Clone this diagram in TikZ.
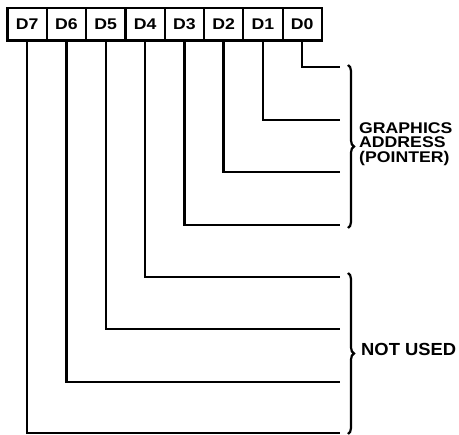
\documentclass[tikz,border=0pt]{standalone}
\usepackage{fontspec}
\setmainfont{Liberation Sans}
\usepackage{graphicx}
\usetikzlibrary{positioning,decorations.pathreplacing}
\tikzset{bitbox/.style={rectangle,draw=black,line width=2.2pt,minimum width=39.3pt,minimum height=32.5pt,inner sep=0pt}}
\tikzset{wire/.style={line width=2.4pt}}
\tikzset{brc/.style={decorate,decoration={brace,amplitude=6pt},line width=2.2pt}}
\newcommand{\Wlabel}[1]{\scalebox{1.14}[1]{\bfseries #1}}

\begin{document}
\begin{tikzpicture}[x=1pt,y=-1pt,font=\fontsize{15.5}{14.5}\selectfont]
\useasboundingbox (0,0) rectangle (459,435);
% the register bits
\node (d7) [bitbox] at (27.15,24.25) {\Wlabel{D7}};
\node (d6) [bitbox] at (66.45,24.25) {\Wlabel{D6}};
\node (d5) [bitbox] at (105.75,24.25) {\Wlabel{D5}};
\node (d4) [bitbox] at (145.05,24.25) {\Wlabel{D4}};
\node (d3) [bitbox] at (184.35,24.25) {\Wlabel{D3}};
\node (d2) [bitbox] at (223.65,24.25) {\Wlabel{D2}};
\node (d1) [bitbox] at (262.95,24.25) {\Wlabel{D1}};
\node (d0) [bitbox] at (302.25,24.25) {\Wlabel{D0}};
%
\coordinate (e0) at (340,67);
\coordinate (e1) at (340,120);
\coordinate (e2) at (340,172);
\coordinate (e3) at (340,225);
\coordinate (e4) at (340,277);
\coordinate (e5) at (340,329);
\coordinate (e6) at (340,382);
\coordinate (e7) at (340,433);
%
\draw[wire] (d0.south) |- (e0);
\draw[wire] (d1.south) |- (e1);
\draw[wire] (d2.south) |- (e2);
\draw[wire] (d3.south) |- (e3);
\draw[wire] (d4.south) |- (e4);
\draw[wire] (d5.south) |- (e5);
\draw[wire] (d6.south) |- (e6);
\draw[wire] (d7.south) |- (e7);

% braces and what they mean
\coordinate (b1top) at (348,65);
\coordinate (b1bot) at (348,228);
\coordinate (b2top) at (348,273);
\coordinate (b2bot) at (348,434);
\draw[brc] (b1top) -- (b1bot);
\draw[brc] (b2top) -- (b2bot);
\node (addr) [anchor=west,align=left,inner sep=0pt] at (359,144) {\Wlabel{GRAPHICS}\\\Wlabel{ADDRESS}\\\Wlabel{(POINTER)}};
\node (unused) [anchor=west,inner sep=0pt,font=\fontsize{17.5}{17.5}\selectfont] at (361,349.5) {\scalebox{1.05}[1]{\bfseries NOT USED}};
\end{tikzpicture}
\end{document}
